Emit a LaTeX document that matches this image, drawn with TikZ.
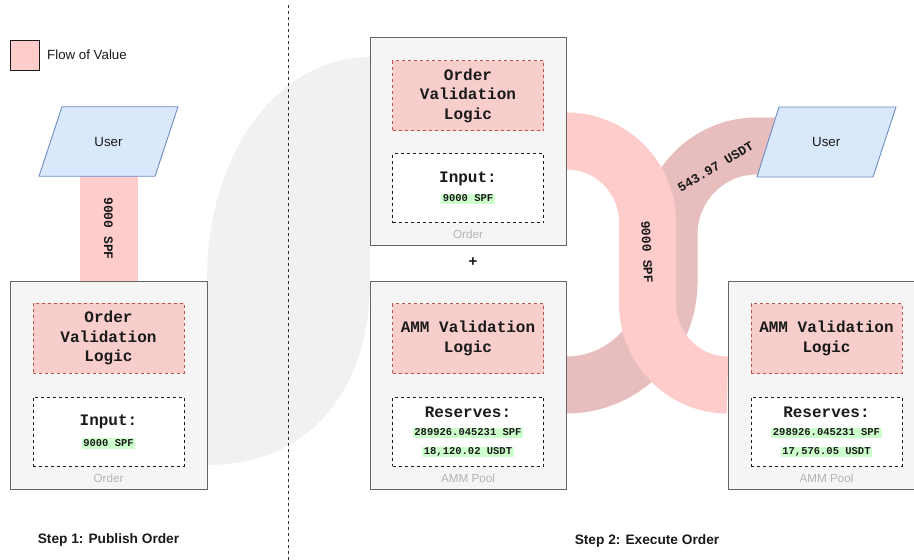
\documentclass[tikz,border=0pt]{standalone}
\usepackage{fontspec}
\setmainfont{Liberation Sans}
\newfontfamily\monofam{Liberation Mono}
\usetikzlibrary{calc}

\definecolor{flowpink}{HTML}{FFCCCC}
\definecolor{flowdark}{HTML}{E8BDBD}
\definecolor{blobgray}{HTML}{F1F1F1}
\definecolor{boxfill}{HTML}{F5F5F5}
\definecolor{boxline}{HTML}{666666}
\definecolor{logicfill}{HTML}{F8CECC}
\definecolor{logicline}{HTML}{B85450}
\definecolor{userfill}{HTML}{DAE8FC}
\definecolor{userline}{HTML}{6C8EBF}
\definecolor{hlgreen}{HTML}{CCFFCC}
\definecolor{captiongray}{HTML}{B3B3B3}
\definecolor{inkdark}{HTML}{1A1A1A}

\tikzset{
  outerbox/.style={draw=boxline, fill=boxfill, line width=1pt,
    minimum width=196pt, minimum height=208pt, inner sep=0pt},
  logicbox/.style={draw=logicline, fill=logicfill, dash pattern=on 3pt off 3pt,
    line width=0.9pt, minimum width=151pt, minimum height=70pt, inner sep=0pt,
    align=center, text=inkdark, font=\monofam\bfseries\fontsize{16}{19.5}\selectfont},
  databox/.style={draw=inkdark, fill=white, dash pattern=on 3pt off 3pt,
    line width=0.9pt, minimum width=151pt, minimum height=69pt, inner sep=0pt},
  headtext/.style={text=inkdark, inner sep=0pt, font=\monofam\bfseries\fontsize{16}{19}\selectfont},
  amount/.style={fill=hlgreen, text=inkdark, inner xsep=1.5pt, inner ysep=0pt,
    text height=8pt, text depth=2.5pt, font=\monofam\bfseries\fontsize{10.5}{12}\selectfont},
  caption/.style={text=captiongray, inner sep=0pt, font=\fontsize{11.7}{13}\selectfont},
  usershape/.style={draw=userline, fill=userfill, line width=0.9pt},
  usertext/.style={text=inkdark, font=\fontsize{13.3}{15}\selectfont},
  band/.style={line width=57pt},
  bandlabel/.style={text=inkdark, inner sep=0pt, font=\monofam\bfseries\fontsize{13}{15}\selectfont},
  steplabel/.style={text=inkdark, font=\bfseries\fontsize{13.7}{16}\selectfont},
}

\begin{document}
\begin{tikzpicture}[x=1pt, y=-1pt]
\useasboundingbox (0,0) rectangle (914,560);
\clip (0,0) rectangle (914,560);

% background swoosh between the two steps
\fill[blobgray] (207,465) -- (207,280) .. controls (207,150) and (280,57) .. (370,57)
  -- (370,280) .. controls (370,390) and (310,465) .. (207,465) -- cycle;

% separator between the steps
\draw[inkdark!90, line width=1pt, dash pattern=on 3pt off 3pt] (288,5) -- (288,560);

% legend
\node[draw=inkdark, fill=flowpink, line width=1pt, minimum width=29pt,
  minimum height=30pt, inner sep=0pt] (legend) at (24.5,55) {};
\node[anchor=west, inner sep=0pt, text=inkdark, font=\fontsize{13.3}{15}\selectfont]
  (legendtext) at (47,54.5) {Flow of Value};

% ---- Step 1: user publishes the order
\coordinate (u1c) at (108.5,141.5);
\coordinate (u1foot) at (108.5,176);
\node[outerbox, minimum width=197pt] (ord1) at (108.5,385) {};
\draw[band, line width=58pt, flowpink] (u1foot) -- (ord1.north);
\node[outerbox, minimum width=197pt] at (ord1) {};
\draw[usershape] ($(u1c)+(-46.5,-34.75)$) -- ($(u1c)+(69.5,-34.75)$)
  -- ($(u1c)+(46.5,34.75)$) -- ($(u1c)+(-69.5,34.75)$) -- cycle;
\node[usertext] (user1) at (u1c) {User};
\node[bandlabel, rotate=-90] (lbl1) at (108.5,228.5) {9000 SPF};

\node[logicbox] (logic1) at (108.5,338) {Order\\Validation\\Logic};
\node[databox] (data1) at (108.5,431.5) {};
\node[headtext] (in1) at (108.5,422) {Input:};
\node[amount] (amt1) at (108.5,443.5) {9000 SPF};
\node[caption] (cap1) at (108.5,478) {Order};

% ---- Step 2: order executed against the pool
\node[outerbox] (ord2) at (468,141) {};
\node[outerbox] (amm1) at (468,385) {};
\node[outerbox] (amm2) at (826,385) {};
\coordinate (u2c) at (826.25,142);
\coordinate (u2in) at (756.5,146);

% USDT going out to the user
\draw[band, flowdark] (amm1.east) .. controls +(56.6,0) and +(0,56.6) .. ++(102.5,-102.5)
  -- ++(0,-48) .. controls +(0,-48.6) and +(-48.6,0) .. (u2in) -- (u2in -| u2c);
% SPF going into the pool
\draw[band, flowpink] (ord2.east) .. controls +(44.7,0) and +(0,-44.7) .. ++(81,81)
  -- ++(0,81) .. controls +(0,44.7) and +(-44.7,0) .. (amm2.west);

% boxes drawn again over the band ends
\node[outerbox] at (ord2) {};
\node[outerbox] at (amm1) {};
\node[outerbox] at (amm2) {};

\draw[usershape] ($(u2c)+(-47.25,-35)$) -- ($(u2c)+(69.75,-35)$)
  -- ($(u2c)+(46.75,35)$) -- ($(u2c)+(-69.25,35)$) -- cycle;
\node[usertext] (user2) at (u2c) {User};

\node[bandlabel, rotate=-87] (lbl2) at (647,252) {9000 SPF};
\node[bandlabel, rotate=31] (lbl3) at (715.5,167) {543.97 USDT};

% order box, step 2
\node[logicbox] (logic2) at (468,95.5) {Order\\Validation\\Logic};
\node[databox] (data2) at (468,188) {};
\node[headtext] (in2) at (468,179) {Input:};
\node[amount] (amt2) at (468,199) {9000 SPF};
\node[caption] (cap2) at (468,234) {Order};

\node[inkdark, inner sep=0pt, font=\bfseries\fontsize{15}{17}\selectfont] (plus) at (473,262) {+};

% pool before
\node[logicbox] (logic3) at (468,338.5) {AMM Validation\\Logic};
\node[databox] (data3) at (468,431.5) {};
\node[headtext] (res3) at (468,412) {Reserves:};
\node[amount] (spf3) at (468,433) {289926.045231 SPF};
\node[amount] (usd3) at (468,452) {18,120.02 USDT};
\node[caption] (cap3) at (468,478) {AMM Pool};

% pool after
\node[logicbox] (logic4) at (826.5,338.5) {AMM Validation\\Logic};
\node[databox] (data4) at (826.5,431.5) {};
\node[headtext] (res4) at (826.5,412) {Reserves:};
\node[amount] (spf4) at (826.5,433) {298926.045231 SPF};
\node[amount] (usd4) at (826.5,452) {17,576.05 USDT};
\node[caption] (cap4) at (826.5,478) {AMM Pool};

% step captions
\node[steplabel] (step1) at (108.5,540) {Step 1: Publish Order};
\node[steplabel] (step2) at (647,541) {Step 2: Execute Order};
\end{tikzpicture}
\end{document}
